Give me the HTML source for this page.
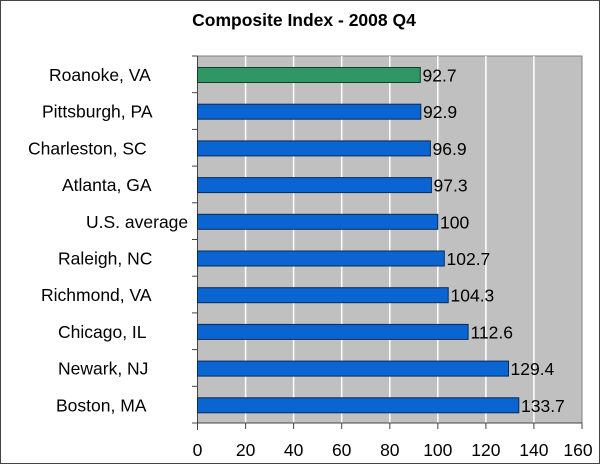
<!DOCTYPE html>
<html><head><style>body{margin:0;background:#fff}</style></head><body>
<svg width="600" height="464" xmlns="http://www.w3.org/2000/svg" font-family="Liberation Sans, sans-serif">
<rect x="0.5" y="0.5" width="599" height="463" fill="#fff" stroke="#444"/>
<text x="304" y="26" text-anchor="middle" font-size="17.5" font-weight="bold">Composite Index - 2008 Q4</text>
<rect x="197.5" y="56" width="384.5" height="367" fill="#c0c0c0" stroke="#808080"/>
<g stroke="#fff" stroke-width="1.5">
<line x1="245.6" y1="56" x2="245.6" y2="423"/><line x1="293.6" y1="56" x2="293.6" y2="423"/>
<line x1="341.7" y1="56" x2="341.7" y2="423"/><line x1="389.8" y1="56" x2="389.8" y2="423"/>
<line x1="437.8" y1="56" x2="437.8" y2="423"/><line x1="485.9" y1="56" x2="485.9" y2="423"/>
<line x1="533.9" y1="56" x2="533.9" y2="423"/>
</g>
<g stroke="#444">
<line x1="197.5" y1="56" x2="197.5" y2="430"/>
<line x1="192" y1="56" x2="197.5" y2="56"/><line x1="192" y1="92.7" x2="197.5" y2="92.7"/>
<line x1="192" y1="129.4" x2="197.5" y2="129.4"/><line x1="192" y1="166.1" x2="197.5" y2="166.1"/>
<line x1="192" y1="202.8" x2="197.5" y2="202.8"/><line x1="192" y1="239.5" x2="197.5" y2="239.5"/>
<line x1="192" y1="276.2" x2="197.5" y2="276.2"/><line x1="192" y1="312.9" x2="197.5" y2="312.9"/>
<line x1="192" y1="349.6" x2="197.5" y2="349.6"/><line x1="192" y1="386.3" x2="197.5" y2="386.3"/>
<line x1="192" y1="423" x2="197.5" y2="423"/>
<line x1="197.5" y1="423" x2="582" y2="423"/>
<line x1="245.6" y1="423" x2="245.6" y2="429"/><line x1="293.6" y1="423" x2="293.6" y2="429"/>
<line x1="341.7" y1="423" x2="341.7" y2="429"/><line x1="389.8" y1="423" x2="389.8" y2="429"/>
<line x1="437.8" y1="423" x2="437.8" y2="429"/><line x1="485.9" y1="423" x2="485.9" y2="429"/>
<line x1="533.9" y1="423" x2="533.9" y2="429"/><line x1="582" y1="423" x2="582" y2="429"/>
</g>
<g font-size="17.5" text-anchor="middle">
<text x="197.5" y="456">0</text><text x="245.6" y="456">20</text><text x="293.6" y="456">40</text>
<text x="341.7" y="456">60</text><text x="389.8" y="456">80</text><text x="437.8" y="456">100</text>
<text x="485.9" y="456">120</text><text x="533.9" y="456">140</text><text x="578" y="456">160</text>
</g>
<g stroke="#0a2a50" stroke-width="1">
<rect x="197.5" y="67.5" width="222.8" height="15" fill="#2e9764" stroke="#123d28"/>
<rect x="197.5" y="104.2" width="223.3" height="15" fill="#0a64d2"/>
<rect x="197.5" y="140.9" width="232.9" height="15" fill="#0a64d2"/>
<rect x="197.5" y="177.6" width="233.9" height="15" fill="#0a64d2"/>
<rect x="197.5" y="214.3" width="240.3" height="15" fill="#0a64d2"/>
<rect x="197.5" y="251" width="246.8" height="15" fill="#0a64d2"/>
<rect x="197.5" y="287.7" width="250.7" height="15" fill="#0a64d2"/>
<rect x="197.5" y="324.4" width="270.6" height="15" fill="#0a64d2"/>
<rect x="197.5" y="361.1" width="311" height="15" fill="#0a64d2"/>
<rect x="197.5" y="397.8" width="321.3" height="15" fill="#0a64d2"/>
</g>
<g font-size="17.5">
<text x="422.5" y="81.5">92.7</text><text x="423" y="118.2">92.9</text>
<text x="432.5" y="154.9">96.9</text><text x="433.5" y="191.6">97.3</text>
<text x="440" y="228.3">100</text><text x="446.5" y="265">102.7</text>
<text x="450.5" y="301.7">104.3</text><text x="470.5" y="338.4">112.6</text>
<text x="510.5" y="375.1">129.4</text><text x="521" y="411.8">133.7</text>
</g>
<g font-size="17.5">
<text x="49" y="81">Roanoke, VA</text><text x="42" y="117.7">Pittsburgh, PA</text>
<text x="28" y="154.4">Charleston, SC</text><text x="62" y="191.1">Atlanta, GA</text>
<text x="86" y="227.8">U.S. average</text><text x="58" y="264.5">Raleigh, NC</text>
<text x="41" y="301.2">Richmond, VA</text><text x="58" y="337.9">Chicago, IL</text>
<text x="58" y="374.6">Newark, NJ</text><text x="56" y="411.3">Boston, MA</text>
</g>
</svg>
</body></html>
